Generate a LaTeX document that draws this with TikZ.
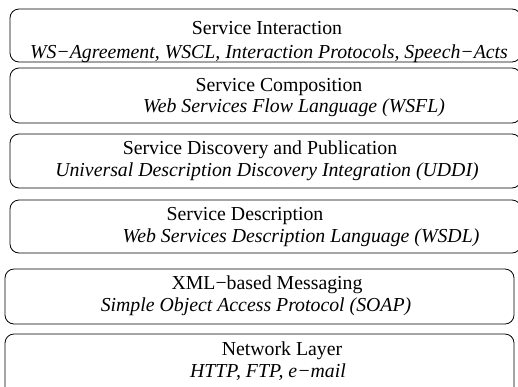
\documentclass[tikz,border=0pt]{standalone}
\usepackage{fontspec}
\setmainfont{Liberation Serif}

\begin{document}
\begin{tikzpicture}[x=1pt,y=-1pt,
  layerbox/.style={draw=black,line width=0.8pt,rounded corners=9pt},
  layername/.style={anchor=base,inner sep=0pt,font=\fontsize{19.8}{22}\selectfont},
  layerproto/.style={anchor=base,inner sep=0pt,font=\fontsize{19.8}{22}\selectfont\itshape}]
\useasboundingbox (0,0) rectangle (518,386);
% interaction
\draw[layerbox] (10,9) rectangle (521,62);
\node[layername] (inter) at (267,34) {Service Interaction};
\node[layerproto] (interp) at (269,58) {WS−Agreement, WSCL, Interaction Protocols, Speech−Acts};
% composition
\draw[layerbox] (10,68) rectangle (521,123);
\node[layername] (comp) at (279,91) {Service Composition};
\node[layerproto] (compp) at (294,112) {Web Services Flow Language (WSFL)};
% discovery
\draw[layerbox] (10,134) rectangle (521,188);
\node[layername] (disc) at (260,154) {Service Discovery and Publication};
\node[layerproto] (discp) at (267,176) {Universal Description Discovery Integration (UDDI)};
% description
\draw[layerbox] (10,200) rectangle (521,253);
\node[layername] (desc) at (245,220) {Service Description};
\node[layerproto] (descp) at (301,242) {Web Services Description Language (WSDL)};
% messaging
\draw[layerbox] (5,269) rectangle (514,324);
\node[layername] (msg) at (267,289) {XML−based Messaging};
\node[layerproto] (msgp) at (256,311) {Simple Object Access Protocol (SOAP)};
% network
\draw[layerbox] (5,334) rectangle (514,400);
\node[layername] (net) at (282,355) {Network Layer};
\node[layerproto] (netp) at (268,377) {HTTP, FTP, e−mail};
\end{tikzpicture}
\end{document}
